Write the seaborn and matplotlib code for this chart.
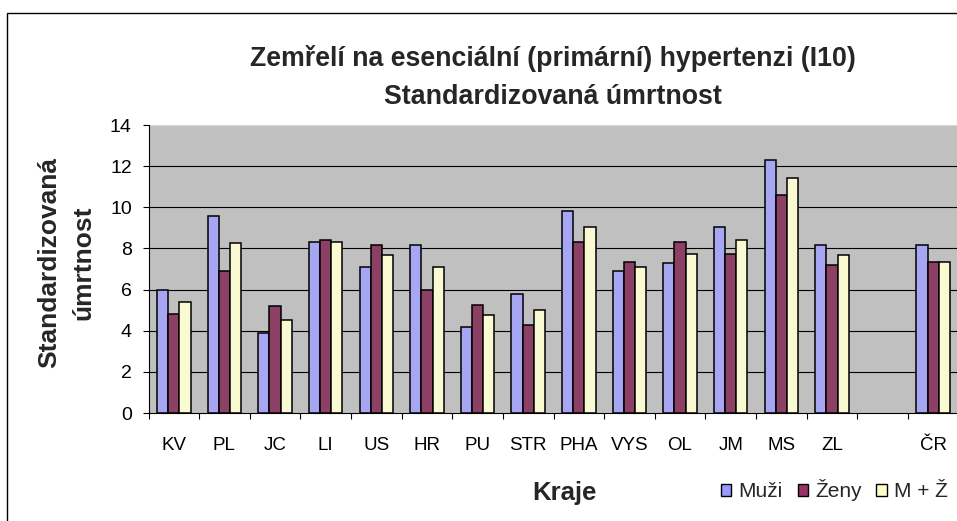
import matplotlib
matplotlib.use("Agg")
import matplotlib.pyplot as plt
import matplotlib.patches as mpatches
import seaborn as sns
import pandas as pd
import numpy as np

# ---- data ----
categories = ["KV", "PL", "JC", "LI", "US", "HR", "PU", "STR", "PHA", "VYS",
              "OL", "JM", "MS", "ZL", " ", "ČR"]
muzi = [6.0, 9.6, 3.9, 8.3, 7.1, 8.15, 4.2, 5.8, 9.8, 6.9, 7.3, 9.05, 12.3, 8.15, np.nan, 8.15]
zeny = [4.8, 6.9, 5.2, 8.4, 8.15, 6.0, 5.25, 4.3, 8.3, 7.35, 8.3, 7.75, 10.6, 7.2, np.nan, 7.35]
mz = [5.4, 8.25, 4.5, 8.3, 7.7, 7.1, 4.75, 5.0, 9.05, 7.1, 7.75, 8.4, 11.4, 7.7, np.nan, 7.35]
series_names = ["Muži", "Ženy", "M + Ž"]
colors = ["#9999FF", "#993366", "#FFFFCC"]
yticks = [0, 2, 4, 6, 8, 10, 12, 14]
title = "Zemřelí na esenciální (primární) hypertenzi (I10)\nStandardizovaná úmrtnost"
ylabel = "Standardizovaná\númrtnost"
xlabel = "Kraje"

rows = []
for name, vals in zip(series_names, [muzi, zeny, mz]):
    for c, v in zip(categories, vals):
        rows.append({"kraj": c, "serie": name, "hodnota": v})
df = pd.DataFrame(rows)

sns.set_theme(style="white")
plt.rcParams["font.family"] = ["Liberation Sans", "DejaVu Sans"]

W, H = 957, 521
fig = plt.figure(figsize=(W / 100, H / 100), dpi=100)
fig.patch.set_facecolor("white")

left_px, right_px, top_px, bot_px = 148.5, 958.5, 125, 413
ax = fig.add_axes([left_px / W, 1 - bot_px / H, (right_px - left_px) / W, (bot_px - top_px) / H])
ax.set_facecolor("#C0C0C0")

sns.barplot(data=df, x="kraj", y="hodnota", hue="serie", order=categories,
            hue_order=series_names, palette=colors, width=0.66, gap=0,
            edgecolor="black", linewidth=1.1, ax=ax, legend=False, zorder=3)

ax.set_xlim(-0.5, len(categories) - 0.5)
ax.set_ylim(0, 14)
ax.set_yticks(yticks)
ax.set_yticklabels([str(t) for t in yticks], fontsize=14, color="black")
for y in yticks[1:-1]:
    ax.axhline(y, color="black", lw=0.8, zorder=1)

ax.set_xticks(range(len(categories)))
ax.set_xticklabels([c.strip() for c in categories], fontsize=13.5, color="black")
ax.tick_params(axis="x", which="major", length=0, pad=17)
ax.set_xticks(np.arange(-0.5, len(categories) + 0.5, 1), minor=True)
ax.tick_params(axis="x", which="minor", length=4.5, width=0.8, color="black", direction="out", bottom=True)
ax.tick_params(axis="y", which="major", length=4, width=0.8, color="black", direction="out", left=True, pad=8)

for s in ["top", "right"]:
    ax.spines[s].set_visible(False)
ax.spines["left"].set_color("black")
ax.spines["left"].set_linewidth(0.8)
ax.spines["bottom"].set_color("black")
ax.spines["bottom"].set_linewidth(0.8)
ax.axhline(14, color="#d8d8d8", lw=0.8, zorder=1)

ax.set_xlabel("")
ax.set_ylabel(ylabel, fontsize=19, fontweight="bold", linespacing=1.5)
ax.yaxis.set_label_coords((95 - left_px) / (right_px - left_px), (bot_px - 263) / (bot_px - top_px))

fig.text(553 / W, 1 - 78 / H, title, ha="center", va="center", fontsize=19.3,
         fontweight="bold", linespacing=1.6)
fig.text(564 / W, 1 - 493 / H, xlabel, ha="center", va="center", fontsize=18.5, fontweight="bold")

handles = [mpatches.Patch(facecolor=c, edgecolor="black", linewidth=1.0, label=n)
           for c, n in zip(colors, series_names)]
fig.legend(handles=handles, loc="center left", bbox_to_anchor=(721 / W, 1 - 490 / H),
           ncol=3, frameon=False, fontsize=15, handlelength=0.5, handleheight=0.5,
           handletextpad=0.35, columnspacing=0.7, borderaxespad=0, borderpad=0)

border = mpatches.Rectangle((7 / W, -0.2), 1.2, 1.2 - 13 / H, transform=fig.transFigure,
                            fill=False, edgecolor="black", lw=1.0, clip_on=False)
fig.patches.append(border)

fig.savefig("out.png", dpi=100, facecolor="white")
